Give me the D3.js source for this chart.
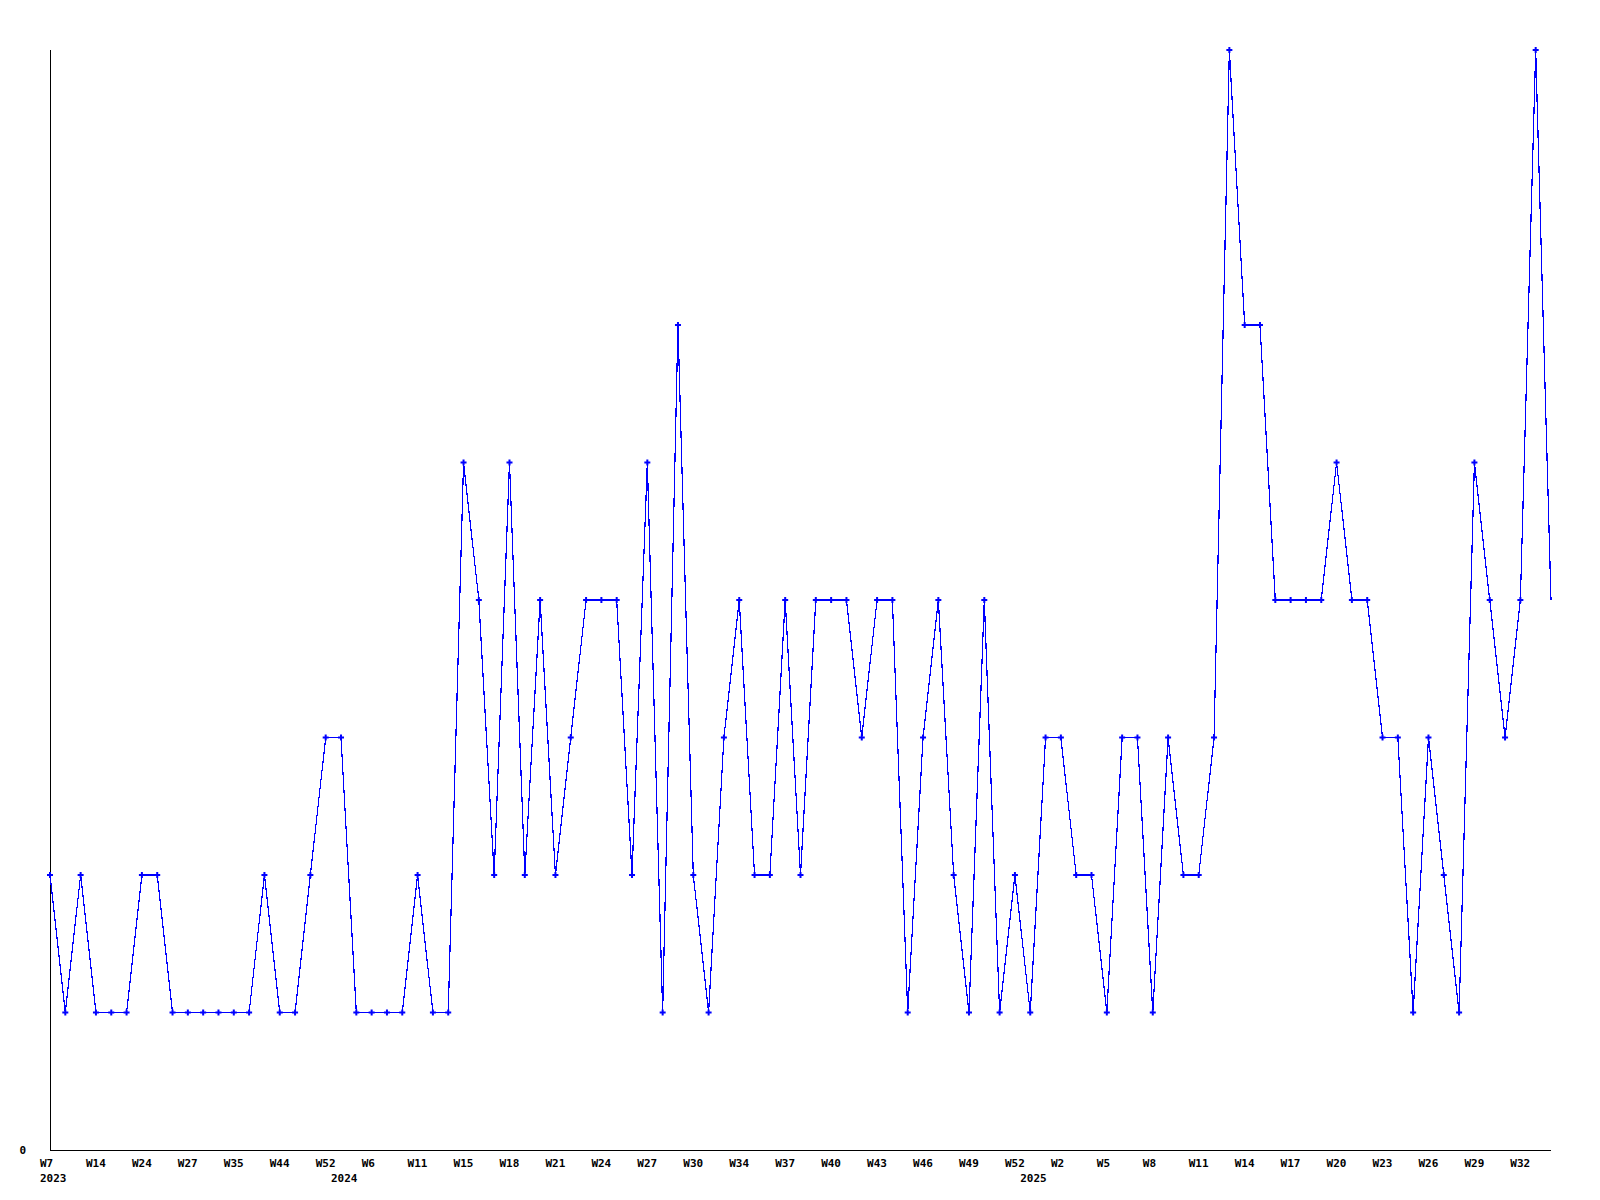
<!DOCTYPE html>
<html>
<head>
<meta charset="utf-8">
<script src="https://cdn.jsdelivr.net/npm/d3@7"></script>
<style>
  html, body { margin: 0; padding: 0; background: #fff; }
  svg { display: block; }
  text { font-family: "DejaVu Sans Mono", "Liberation Mono", monospace; font-weight: bold; font-size: 11px; fill: #000; }
</style>
</head>
<body>
<svg id="chart" width="1600" height="1200"></svg>
<script>
// ---- data ----
const categories = [
  "2023-W7","2023-W8","2023-W10","2023-W14","2023-W17","2023-W20","2023-W24","2023-W25","2023-W26","2023-W27",
  "2023-W29","2023-W32","2023-W35","2023-W38","2023-W41","2023-W44","2023-W47","2023-W50","2023-W52",
  "2024-W1","2024-W3","2024-W6","2024-W8","2024-W10","2024-W11","2024-W12","2024-W13","2024-W15","2024-W16",
  "2024-W17","2024-W18","2024-W19","2024-W20","2024-W21","2024-W22","2024-W23","2024-W24","2024-W25","2024-W26",
  "2024-W27","2024-W28","2024-W29","2024-W30","2024-W31","2024-W32","2024-W34","2024-W35","2024-W36","2024-W37",
  "2024-W38","2024-W39","2024-W40","2024-W41","2024-W42","2024-W43","2024-W44","2024-W45","2024-W46","2024-W47",
  "2024-W48","2024-W49","2024-W50","2024-W51","2024-W52",
  "2025-W0","2025-W1","2025-W2","2025-W3","2025-W4","2025-W5","2025-W6","2025-W7","2025-W8","2025-W9",
  "2025-W10","2025-W11","2025-W12","2025-W13","2025-W14","2025-W15","2025-W16","2025-W17","2025-W18","2025-W19",
  "2025-W20","2025-W21","2025-W22","2025-W23","2025-W24","2025-W25","2025-W26","2025-W27","2025-W28","2025-W29",
  "2025-W30","2025-W31","2025-W32","2025-W33","2025-W34"
];
const values = [
  2,1,2,1,1,1,2,2,1,1,
  1,1,1,1,2,1,1,2,3,3,
  1,1,1,1,2,1,1,5,4,2,
  5,2,4,2,3,4,4,4,2,5,
  1,6,2,1,3,4,2,2,4,2,
  4,4,4,3,4,4,1,3,4,2,
  1,4,1,2,1,3,3,2,2,1,
  3,3,1,3,2,2,3,8,6,6,
  4,4,4,4,5,4,4,3,3,1,
  3,2,1,5,4,3,4,8,4
];
const yTickValues = [0];
const tickEvery = 3;

// ---- layout ----
const svg = d3.select("#chart");
svg.append("rect").attr("width", 1600).attr("height", 1200).attr("fill", "#fff");

const plotL = 50, plotR = 1551, plotT = 50, plotB = 1150;

const x = d3.scalePoint()
  .domain(d3.range(categories.length))
  .range([plotL, plotR]);
const y = d3.scaleLinear()
  .domain([0, d3.max(values)])
  .range([plotB, plotT]);

const parsed = categories.map(c => { const [yr, wk] = c.split("-"); return { yr, wk }; });

// axes lines
svg.append("line")
  .attr("x1", plotL + 0.5).attr("x2", plotL + 0.5)
  .attr("y1", plotT).attr("y2", plotB + 0.5)
  .attr("stroke", "#000").attr("stroke-width", 1).attr("shape-rendering", "crispEdges");
svg.append("line")
  .attr("x1", plotL).attr("x2", plotR)
  .attr("y1", plotB + 0.5).attr("y2", plotB + 0.5)
  .attr("stroke", "#000").attr("stroke-width", 1).attr("shape-rendering", "crispEdges");

// y tick labels
svg.selectAll("text.ylab").data(yTickValues).enter().append("text")
  .attr("class", "ylab")
  .attr("x", 26).attr("y", d => y(d) + 4)
  .attr("text-anchor", "end")
  .text(d => d);

// x tick labels (week)
const tickIdx = d3.range(categories.length).filter(i => i % tickEvery === 0);
svg.selectAll("text.xlab").data(tickIdx).enter().append("text")
  .attr("class", "xlab")
  .attr("x", i => x(i) - 10)
  .attr("y", 1167)
  .text(i => parsed[i].wk);

// year labels at first point of each year
const yearIdx = d3.range(categories.length).filter(i => i === 0 || parsed[i].yr !== parsed[i - 1].yr);
svg.selectAll("text.yrlab").data(yearIdx).enter().append("text")
  .attr("class", "yrlab")
  .attr("x", i => x(i) - 10)
  .attr("y", 1182)
  .text(i => parsed[i].yr);

// line
const line = d3.line()
  .x((d, i) => x(i))
  .y(d => y(d));
svg.append("path")
  .datum(values)
  .attr("d", line)
  .attr("fill", "none")
  .attr("stroke", "#0000ff")
  .attr("stroke-width", 1.2)
  .attr("shape-rendering", "crispEdges");

// markers (last point sits on the plot edge and is not marked)
const sym = d3.symbol().type(d3.symbolCross).size(20);
svg.selectAll("path.mk").data(values.slice(0, -1)).enter().append("path")
  .attr("class", "mk")
  .attr("d", sym)
  .attr("transform", (d, i) => `translate(${x(i)},${y(d)})`)
  .attr("fill", "#0000ff");
</script>
</body>
</html>
